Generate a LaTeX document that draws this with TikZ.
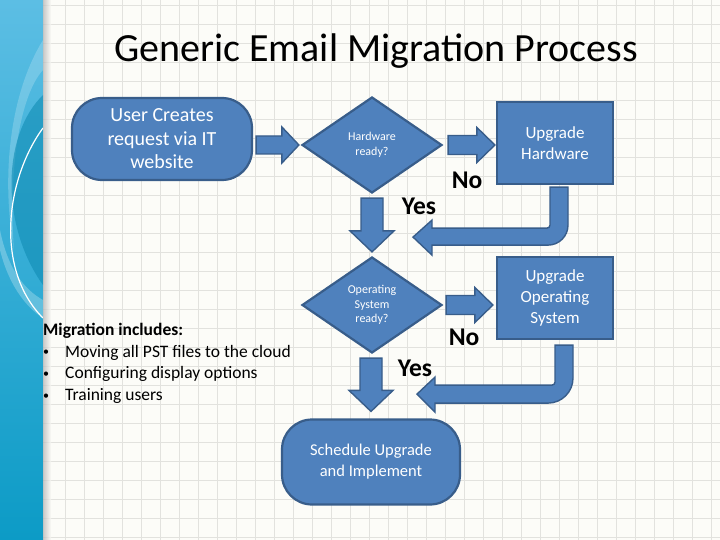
\documentclass[tikz,border=0pt]{standalone}
\usepackage{fontspec}
\setmainfont{Carlito}
\usetikzlibrary{shapes.geometric,calc}
\definecolor{boxfill}{RGB}{79,129,189}
\definecolor{boxline}{RGB}{56,93,138}
\definecolor{gridc}{RGB}{226,226,222}
\definecolor{paper}{RGB}{252,252,248}
\definecolor{stripA}{RGB}{92,190,228}
\definecolor{stripB}{RGB}{12,155,198}
\definecolor{stripD}{RGB}{16,140,180}
\newcommand\migbullet{\makebox[22pt][l]{\fontsize{12}{12}\selectfont\raisebox{1.5pt}{\textbullet}}}
\begin{document}
\begin{tikzpicture}[x=1pt,y=-1pt,
  flow/.style={fill=boxfill,draw=boxline,line width=2.2pt,text=white,align=center,inner sep=0pt},
  termbox/.style={flow,rounded corners=30pt},
  decbox/.style={flow,diamond,minimum width=140pt,minimum height=96pt,font=\fontsize{12}{14.5}\selectfont},
  procbox/.style={flow,minimum width=116pt,minimum height=82pt,font=\fontsize{17}{21}\selectfont},
  blockarrow/.style={fill=boxfill,draw=boxline,line width=1.4pt,line join=miter},
  answer/.style={font=\fontsize{25.5}{25}\selectfont\bfseries,text=black,inner sep=0pt}
]
\useasboundingbox (0,0) rectangle (720,540);
\fill[paper] (0,0) rectangle (720,540);
\foreach \i in {3,...,37} \draw[gridc,line width=0.8pt] (8+19*\i,0) -- (8+19*\i,540);
\foreach \j in {0,...,28} \draw[gridc,line width=0.8pt] (43,5+19*\j) -- (720,5+19*\j);
% left strip
\shade[top color=stripA,bottom color=stripB] (0,0) rectangle (43,540);
\fill[white,opacity=0.2] (43,40) .. controls (12,90) and (0,170) .. (14,250) .. controls (8,170) and (20,95) .. (43,70) -- cycle;
\fill[stripD,opacity=0.6] (43,95) .. controls (2,135) and (0,225) .. (43,285) -- cycle;
\fill[white,opacity=0.25] (0,250) .. controls (10,290) and (30,310) .. (43,318) -- (43,300) .. controls (25,290) and (8,270) .. (0,230) -- cycle;
\draw[white,line width=1.2pt] (43,128) .. controls (5,180) and (-5,270) .. (43,318);
\shade[left color=black!30,right color=paper,opacity=0.7] (43,0) rectangle (51,540);

\node (title) at (376,51) {\fontsize{40}{44}\selectfont Generic Email Migration Process};

\node[termbox,minimum width=180pt,minimum height=82pt,font=\fontsize{20}{23.5}\selectfont] (user) at (162,139) {User Creates\\request via IT\\website};
\node[decbox] (d1) at (372,145) {Hardware\\ready?};
\node[procbox] (uh) at (555,143) {Upgrade\\Hardware};
\node[decbox] (d2) at (372,305) {Operating\\System\\ready?};
\node[procbox] (uos) at (555,298) {Upgrade\\Operating\\System};
\node[termbox,minimum width=178pt,minimum height=85pt,font=\fontsize{16.5}{21}\selectfont] (sched) at (371,462) {Schedule Upgrade\\and Implement};

\node[answer] (no1) at (467,180) {No};
\node[answer] (yes1) at (419,206) {Yes};
\node[answer] (no2) at (464,337) {No};
\node[answer] (yes2) at (415,368) {Yes};

\node[anchor=north west,align=left,inner sep=0pt,font=\fontsize{17.5}{21.7}\selectfont] (mig) at (43,323)
 {\textbf{Migration includes:}\\
  \migbullet Moving all PST files to the cloud\\
  \migbullet Configuring display options\\
  \migbullet Training users};

% straight block arrows
\filldraw[blockarrow] let \p1=(user.east), \p2=(d1.west) in
 (\x1+3pt,\y2-9pt) -- (\x2-19pt,\y2-9pt) -- (\x2-19pt,\y2-18pt) -- (\x2-2pt,\y2) -- (\x2-19pt,\y2+18pt) -- (\x2-19pt,\y2+9pt) -- (\x1+3pt,\y2+9pt) -- cycle;
\filldraw[blockarrow] let \p1=(d1.east), \p2=(uh.west) in
 (\x1+5pt,\y1-9.5pt) -- (\x2-19pt,\y1-9.5pt) -- (\x2-19pt,\y1-17.5pt) -- (\x2-1pt,\y1) -- (\x2-19pt,\y1+17.5pt) -- (\x2-19pt,\y1+9.5pt) -- (\x1+5pt,\y1+9.5pt) -- cycle;
\filldraw[blockarrow] let \p1=(d2.east), \p2=(uos.west) in
 (\x1+3pt,\y1-9.5pt) -- (\x2-21pt,\y1-9.5pt) -- (\x2-21pt,\y1-17.5pt) -- (\x2-3pt,\y1) -- (\x2-21pt,\y1+17.5pt) -- (\x2-21pt,\y1+9.5pt) -- (\x1+3pt,\y1+9.5pt) -- cycle;
\filldraw[blockarrow] let \p1=(d1.south), \p2=(d2.north) in
 (\x1-11pt,\y1-4pt) -- (\x1-11pt,\y2+25pt) -- (\x1-22pt,\y2+25pt) -- (\x1,\y2+4pt) -- (\x1+22pt,\y2+25pt) -- (\x1+11pt,\y2+25pt) -- (\x1+11pt,\y1-4pt) -- cycle;
\filldraw[blockarrow] let \p1=(d2.south), \p2=(sched.north) in
 (\x1-12pt,\y1-4pt) -- (\x1-12pt,\y2+28pt) -- (\x1-23pt,\y2+28pt) -- (\x1-1pt,\y2+7pt) -- (\x1+21pt,\y2+28pt) -- (\x1+10pt,\y2+28pt) -- (\x1+10pt,\y1-4pt) -- cycle;
% bent return arrows
\begin{scope}[shift={(uh.south)}]
\filldraw[blockarrow] (-5,2) -- (13,2) -- (13,40) arc[start angle=0,end angle=90,radius=20] -- (-123,60) -- (-123,70) -- (-142,52) -- (-123,35) -- (-123,43) -- (-8,43) arc[start angle=90,end angle=0,radius=3] -- cycle;
\end{scope}
\begin{scope}[shift={(uos.south)}]
\filldraw[blockarrow] (0,5) -- (18,5) -- (18,38) arc[start angle=0,end angle=90,radius=25] -- (-120,63) -- (-120,72) -- (-138,54) -- (-120,37) -- (-120,45) -- (-3,45) arc[start angle=90,end angle=0,radius=3] -- cycle;
\end{scope}
\end{tikzpicture}
\end{document}
